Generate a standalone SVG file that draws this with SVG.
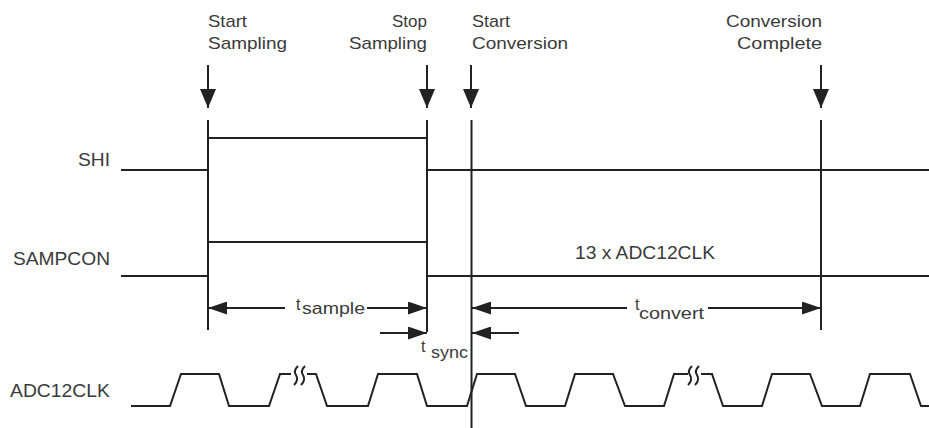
<svg xmlns="http://www.w3.org/2000/svg" width="929" height="428" viewBox="0 0 929 428">
<defs>
<style>
.ln{stroke:#222;stroke-width:2;fill:none}
.lbl{font-family:"Liberation Sans",Arial,sans-serif;fill:#3a3a3a}
.top{font-size:17px}
.sig{font-size:18px}
.sub{font-size:16px}
</style>
<marker id="ah" markerUnits="userSpaceOnUse" markerWidth="19" markerHeight="13" refX="19" refY="6.5" orient="auto">
<path d="M0,0 L19,6.5 L0,13 z" fill="#222"/>
</marker>
<marker id="ahBig" markerUnits="userSpaceOnUse" markerWidth="19" markerHeight="16" refX="19" refY="8" orient="auto">
<path d="M0,0 L19,8 L0,16 z" fill="#222"/>
</marker>
</defs>
<rect width="929" height="428" fill="#fff"/>

<g id="event-start-sampling">
<text class="lbl top" x="208" y="27" textLength="39" lengthAdjust="spacingAndGlyphs">Start</text>
<text class="lbl top" x="208" y="49" textLength="79" lengthAdjust="spacingAndGlyphs">Sampling</text>
</g>
<g id="event-stop-sampling">
<text class="lbl top" x="427" y="27" text-anchor="end">Stop</text>
<text class="lbl top" x="349" y="49" textLength="78" lengthAdjust="spacingAndGlyphs">Sampling</text>
</g>
<g id="event-start-conversion">
<text class="lbl top" x="472" y="27" textLength="38" lengthAdjust="spacingAndGlyphs">Start</text>
<text class="lbl top" x="472" y="49" textLength="96" lengthAdjust="spacingAndGlyphs">Conversion</text>
</g>
<g id="event-conversion-complete">
<text class="lbl top" x="726" y="27" textLength="96" lengthAdjust="spacingAndGlyphs">Conversion</text>
<text class="lbl top" x="737" y="49" textLength="85" lengthAdjust="spacingAndGlyphs">Complete</text>
</g>

<g id="signal-shi">
<text class="lbl sig" x="78" y="166" textLength="32" lengthAdjust="spacingAndGlyphs">SHI</text>
<polyline class="ln" points="121,170 208,170 208,138 427,138 427,170 929,170"/>
</g>
<g id="signal-sampcon">
<text class="lbl sig" x="13" y="265" textLength="97" lengthAdjust="spacingAndGlyphs">SAMPCON</text>
<polyline class="ln" points="121,276 208,276 208,242 427,242 427,276 929,276"/>
<text class="lbl sig" x="575" y="259" textLength="140" lengthAdjust="spacingAndGlyphs">13 x ADC12CLK</text>
</g>
<g id="signal-adc12clk">
<text class="lbl sig" x="10" y="397" textLength="100" lengthAdjust="spacingAndGlyphs">ADC12CLK</text>
<polyline class="ln" points="131,406 170,406 181,374 219,374 229,406 269,406 280,374 291,374"/>
<polyline class="ln" points="307,374 316,374 327,406 368,406 378,374 417,374 427,406 467,406 477,374 515,374 526,406 565,406 575,374 613,374 625,406 664,406 674,374 688,374"/>
<polyline class="ln" points="701,374 712,374 723,406 762,406 772,374 810,374 822,406 860,406 870,374 910,374 921,406 929,406"/>
<path class="ln" stroke-width="1.6" d="M298,366 Q293,371 296,375 Q299,380 294,385 M305,366 Q300,371 303,375 Q306,380 301,385"/>
<path class="ln" stroke-width="1.6" d="M692,366 Q687,371 690,375 Q693,380 688,385 M699,366 Q694,371 697,375 Q700,380 695,385"/>
</g>

<g id="connectors">
<line class="ln" x1="208" y1="65" x2="208" y2="108" marker-end="url(#ahBig)"/>
<line class="ln" x1="427" y1="65" x2="427" y2="108" marker-end="url(#ahBig)"/>
<line class="ln" x1="471" y1="65" x2="471" y2="108" marker-end="url(#ahBig)"/>
<line class="ln" x1="821" y1="65" x2="821" y2="108" marker-end="url(#ahBig)"/>
<line class="ln" x1="208" y1="120" x2="208" y2="330"/>
<line class="ln" x1="427" y1="120" x2="427" y2="332"/>
<line class="ln" x1="471.5" y1="120" x2="471.5" y2="428"/>
<line class="ln" x1="821" y1="120" x2="821" y2="330"/>
<line class="ln" x1="285" y1="308" x2="208" y2="308" marker-end="url(#ah)"/>
<line class="ln" x1="367" y1="308" x2="427" y2="308" marker-end="url(#ah)"/>
<line class="ln" x1="627" y1="308" x2="472" y2="308" marker-end="url(#ah)"/>
<line class="ln" x1="708" y1="308" x2="821" y2="308" marker-end="url(#ah)"/>
<line class="ln" x1="380" y1="333" x2="427" y2="333" marker-end="url(#ah)"/>
<line class="ln" x1="519" y1="333" x2="472" y2="333" marker-end="url(#ah)"/>
</g>

<g id="timing-labels">
<text class="lbl sub" x="296" y="310">t</text>
<text class="lbl sub" x="302" y="314" textLength="63" lengthAdjust="spacingAndGlyphs">sample</text>
<text class="lbl sub" x="635" y="310">t</text>
<text class="lbl sub" x="639" y="319" textLength="65" lengthAdjust="spacingAndGlyphs">convert</text>
<text class="lbl sub" x="421" y="352">t</text>
<text class="lbl sub" x="431" y="358" textLength="37" lengthAdjust="spacingAndGlyphs">sync</text>
</g>
</svg>
